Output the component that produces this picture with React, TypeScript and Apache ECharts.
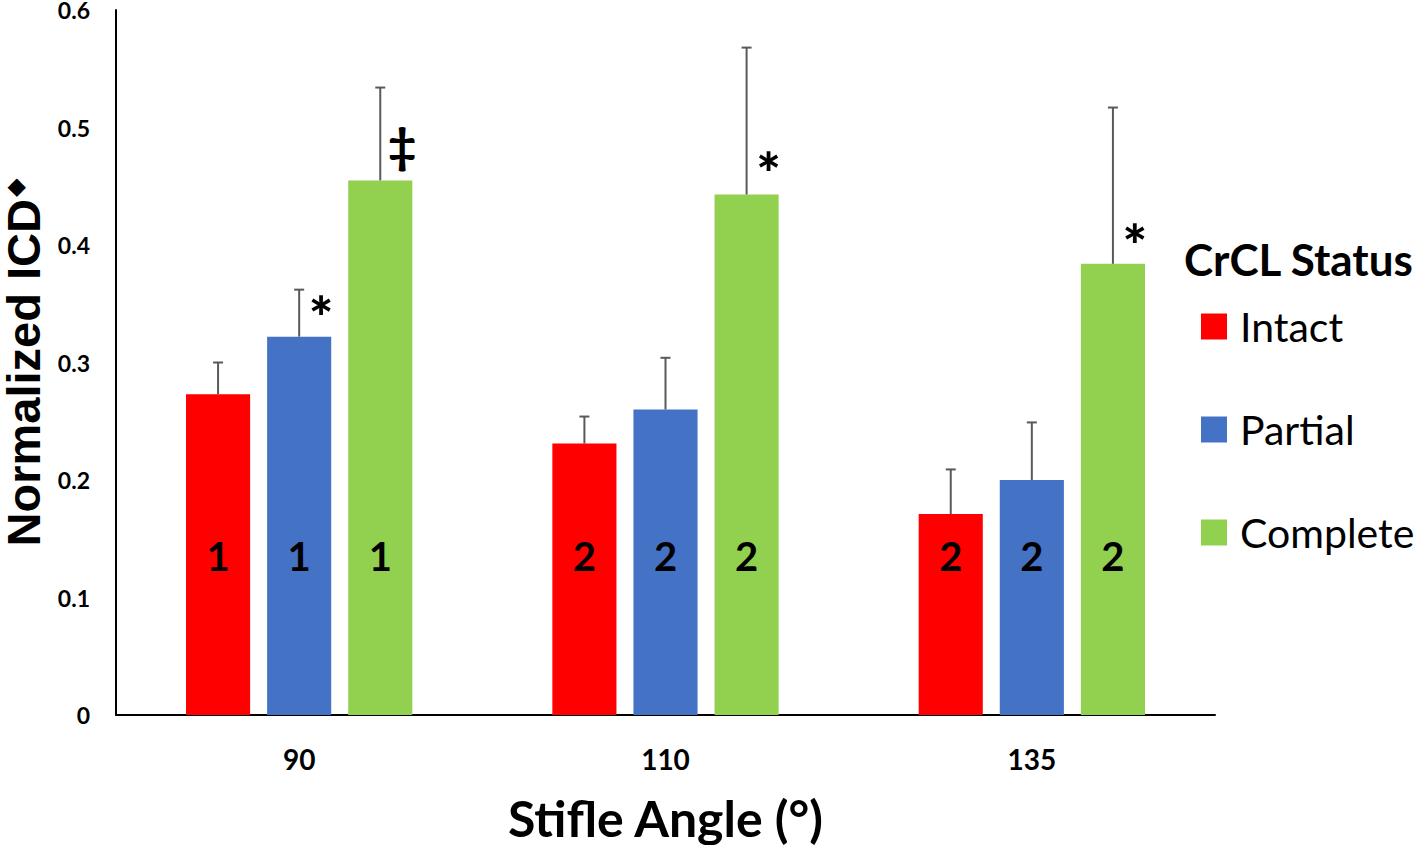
import React, { useEffect, useRef } from "react";
import * as echarts from "echarts";

const categories = ["90", "110", "135"];
const seriesNames = ["Intact", "Partial", "Complete"];
const seriesColors = ["#FF0000", "#4472C4", "#92D050"];
const intactValues = [0.273, 0.231, 0.171];
const partialValues = [0.322, 0.26, 0.2];
const completeValues = [0.455, 0.443, 0.384];
const intactErr = [0.027, 0.023, 0.038];
const partialErr = [0.04, 0.044, 0.049];
const completeErr = [0.079, 0.125, 0.133];
const groupLabels = [
  ["1", "1", "1"],
  ["2", "2", "2"],
  ["2", "2", "2"],
];
const groupLabelLevel = 0.135;
// [category index, series index, y value, mark]
const annotations: [number, number, number, string][] = [
  [0, 1, 0.349, "*"],
  [0, 2, 0.487, "‡"],
  [1, 2, 0.472, "*"],
  [2, 2, 0.411, "*"],
];
const yTicks = [0, 0.1, 0.2, 0.3, 0.4, 0.5, 0.6];

const FONT = "Lato, 'Open Sans', sans-serif";
const ARIAL = "'Liberation Sans', Arial, sans-serif";
const BAR_FRAC = 0.175;
const GAP_FRAC = 0.265;

export default function App() {
  const ref = useRef<HTMLDivElement>(null);
  useEffect(() => {
    if (!ref.current) return;
    const chart = echarts.init(ref.current, undefined, { renderer: "svg" });
    const values = [intactValues, partialValues, completeValues];
    const errs = [intactErr, partialErr, completeErr];
    const errData: number[][] = [];
    for (let c = 0; c < categories.length; c++) {
      for (let s = 0; s < 3; s++) {
        errData.push([c, s, values[s][c], errs[s][c]]);
      }
    }
    const offsetX = (api: any, s: number) => {
      const band = api.size([1, 0])[0];
      const bw = band * BAR_FRAC;
      return (s - 1) * (bw + bw * GAP_FRAC);
    };
    chart.setOption({
      animation: false,
      textStyle: { fontFamily: FONT },
      grid: { left: 116, right: 203, top: 10, bottom: 130, outerBoundsMode: "none", containLabel: false },
      legend: {
        orient: "vertical",
        left: 1201,
        top: 306,
        padding: 0,
        icon: "rect",
        itemWidth: 26,
        itemHeight: 26,
        itemGap: 62,
        data: seriesNames,
        textStyle: { fontSize: 41, color: "#000", fontFamily: FONT, padding: [0, 0, 0, 8] },
      },
      graphic: [
        {
          type: "text",
          left: 1184,
          top: 237,
          style: { text: "CrCL Status", fontSize: 44, fontWeight: "bold", fill: "#000", fontFamily: FONT },
        },
      ],
      xAxis: {
        type: "category",
        data: categories,
        axisLine: { lineStyle: { color: "#000", width: 2 } },
        axisTick: { show: false },
        axisLabel: { fontSize: 28, fontWeight: "bold", color: "#000", margin: 30 },
        name: "Stifle Angle (°)",
        nameLocation: "middle",
        nameGap: 81,
        nameTextStyle: { fontSize: 50, lineHeight: 44, fontWeight: "bold", color: "#000", fontFamily: FONT },
      },
      yAxis: {
        type: "value",
        min: yTicks[0],
        max: yTicks[yTicks.length - 1],
        interval: 0.1,
        axisLine: { show: true, lineStyle: { color: "#000", width: 2 } },
        axisTick: { show: false },
        splitLine: { show: false },
        axisLabel: {
          fontSize: 23,
          fontWeight: "bold",
          color: "#000",
          margin: 26,
          formatter: (v: number) => String(Math.round(v * 10) / 10),
        },
        name: "Normalized ICD{d|◆}",
        nameLocation: "middle",
        nameRotate: 90,
        nameGap: 72,
        nameTextStyle: {
          fontSize: 47,
          lineHeight: 40,
          fontWeight: "bold",
          color: "#000",
          fontFamily: ARIAL,
          rich: {
            d: { fontSize: 24, lineHeight: 40, fontFamily: "'DejaVu Sans'", verticalAlign: "top", color: "#000", padding: [0, 0, 12, 2] },
          },
        },
      },
      series: [
        ...seriesNames.map((name, i) => ({
          name,
          type: "bar",
          data: values[i],
          barWidth: BAR_FRAC * 100 + "%",
          barGap: GAP_FRAC * 100 + "%",
          itemStyle: { color: seriesColors[i] },
        })),
        {
          type: "custom",
          z: 5,
          data: errData,
          renderItem: (params: any, api: any) => {
            const c = api.value(0);
            const s = api.value(1);
            const v = api.value(2);
            const e = api.value(3);
            const cx = api.coord([c, 0])[0] + offsetX(api, s);
            const top = api.coord([c, v])[1];
            const errTop = api.coord([c, v + e])[1];
            const labelY = api.coord([c, groupLabelLevel])[1];
            const stroke = { stroke: "#595959", lineWidth: 2 };
            return {
              type: "group",
              children: [
                { type: "line", shape: { x1: cx, y1: top, x2: cx, y2: errTop }, style: stroke },
                { type: "line", shape: { x1: cx - 5, y1: errTop, x2: cx + 5, y2: errTop }, style: stroke },
                {
                  type: "text",
                  x: cx,
                  y: labelY,
                  style: {
                    text: groupLabels[c][s],
                    fontSize: 40,
                    fontWeight: "bold",
                    fill: "#000",
                    align: "center",
                    verticalAlign: "middle",
                    fontFamily: FONT,
                  },
                },
              ],
            };
          },
        },
        {
          type: "custom",
          z: 6,
          data: annotations.map((a) => [a[0], a[1], a[2]]),
          renderItem: (params: any, api: any) => {
            const c = api.value(0);
            const s = api.value(1);
            const y = api.value(2);
            const cx = api.coord([c, 0])[0] + offsetX(api, s);
            const py = api.coord([c, y])[1];
            const mark = annotations[params.dataIndex][3];
            const star = mark === "*";
            return {
              type: "text",
              x: cx + 22,
              y: py + (star ? 12 : 2),
              style: {
                text: mark,
                fontSize: star ? 58 : 48,
                fontWeight: "900",
                fill: "#000",
                align: "center",
                verticalAlign: "middle",
                fontFamily: FONT,
              },
            };
          },
        },
      ],
    });
    return () => chart.dispose();
  }, []);
  return <div ref={ref} style={{ width: 1418, height: 845, position: "absolute", left: 0, top: 0 }} />;
}
